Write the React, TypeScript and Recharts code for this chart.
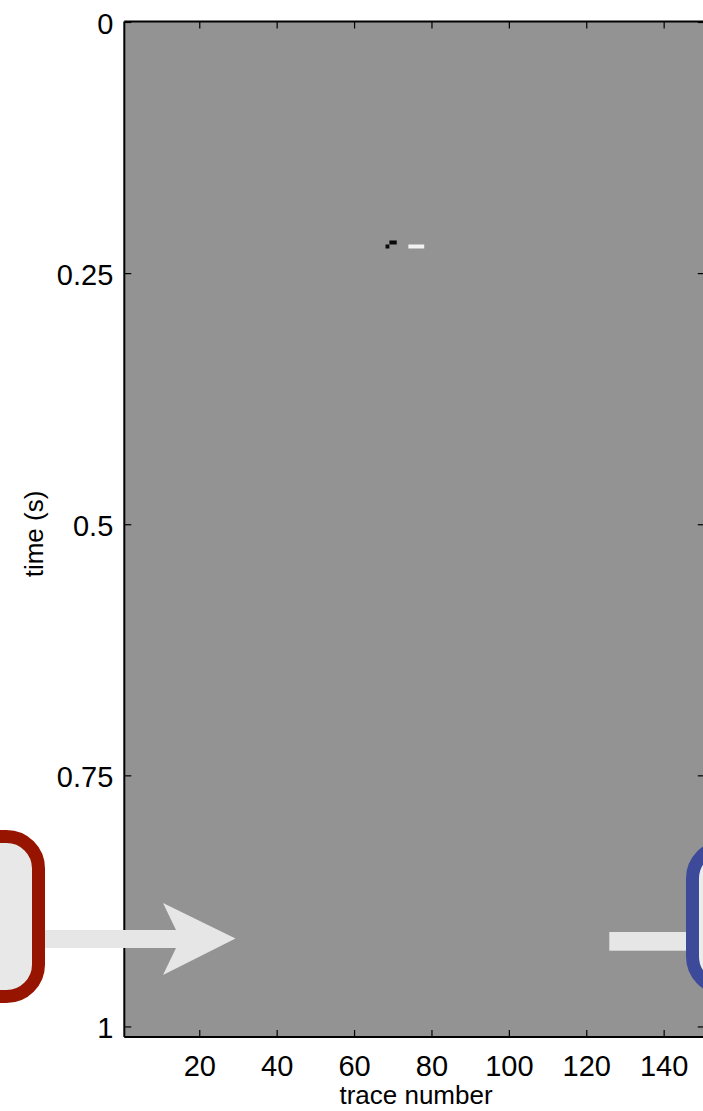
import { ComposedChart, XAxis, YAxis, ReferenceArea, Scatter } from "recharts";

// trace axis extent (imagesc cells 1..150) and time axis extent
const traceRange = [0.5, 150.5];
const timeRange = [-0.001, 1.01];

const traceTicks = [20, 40, 60, 80, 100, 120, 140];
const timeTicks = [0, 0.25, 0.5, 0.75, 1];
const timeTickLabels = ["0", "0.25", "0.5", "0.75", "1"];

// non-zero amplitude cells read off the section: trace span, time span, amplitude
const cellTraceStart = [69.0, 68.0, 73.9];
const cellTraceEnd = [70.9, 69.0, 78.0];
const cellTimeStart = [0.217, 0.221, 0.221];
const cellTimeEnd = [0.221, 0.225, 0.225];
const cellAmp = [-1, -1, 1];

const bgGray = "#939393";

function ampColor(a: number) {
  if (a < 0) return "#0a0a0a";
  if (a > 0) return "#f2f2f2";
  return bgGray;
}

const cellCenters = cellAmp.map((a, i) => ({
  x: (cellTraceStart[i] + cellTraceEnd[i]) / 2,
  y: (cellTimeStart[i] + cellTimeEnd[i]) / 2,
  a,
}));

const BottomTick = (props: any) => {
  const { x, y, payload } = props;
  return (
    <g>
      <line x1={x} x2={x} y1={y} y2={y - 7} stroke="#000" strokeWidth={1.2} />
      <text x={x} y={y + 39} textAnchor="middle" fontSize={29} fill="#000">
        {payload.value}
      </text>
    </g>
  );
};

const TopTick = (props: any) => {
  const { x, y } = props;
  return <line x1={x} x2={x} y1={y} y2={y + 7} stroke="#000" strokeWidth={1.2} />;
};

const LeftTick = (props: any) => {
  const { x, y, payload } = props;
  const i = timeTicks.indexOf(payload.value);
  return (
    <g>
      <line x1={x} x2={x + 7} y1={y} y2={y} stroke="#000" strokeWidth={1.2} />
      <text x={x - 11} y={y + 11} textAnchor="end" fontSize={29} fill="#000">
        {i >= 0 ? timeTickLabels[i] : payload.value}
      </text>
    </g>
  );
};

const RightTick = (props: any) => {
  const { x, y } = props;
  return <line x1={x} x2={x - 7} y1={y} y2={y} stroke="#000" strokeWidth={1.2} />;
};

export default function App() {
  const font = '"Liberation Sans", Arial, Helvetica, sans-serif';
  return (
    <div
      style={{
        position: "fixed",
        left: 0,
        top: 0,
        width: 703,
        height: 1111,
        overflow: "hidden",
        background: "#fff",
        fontFamily: font,
      }}
    >
      <ComposedChart
        width={760}
        height={1111}
        data={cellCenters}
        margin={{ top: 20.5, left: 123.3, right: 54.2, bottom: 73 }}
        style={{ fontFamily: font, overflow: "visible" }}
      >
        <XAxis
          xAxisId="b"
          type="number"
          dataKey="x"
          domain={traceRange}
          allowDataOverflow
          ticks={traceTicks}
          interval={0}
          height={1}
          tickSize={0}
          tickMargin={0}
          tick={<BottomTick />}
          axisLine={{ stroke: "#000", strokeWidth: 2 }}
        />
        <XAxis
          xAxisId="t"
          orientation="top"
          type="number"
          dataKey="x"
          domain={traceRange}
          allowDataOverflow
          ticks={traceTicks}
          interval={0}
          height={1}
          tickSize={0}
          tickMargin={0}
          tick={<TopTick />}
          axisLine={{ stroke: "#000", strokeWidth: 2 }}
        />
        <YAxis
          yAxisId="l"
          type="number"
          dataKey="y"
          domain={timeRange}
          allowDataOverflow
          reversed
          ticks={timeTicks}
          interval={0}
          width={1}
          tickSize={0}
          tickMargin={0}
          tick={<LeftTick />}
          axisLine={{ stroke: "#000", strokeWidth: 2 }}
        />
        <YAxis
          yAxisId="r"
          orientation="right"
          type="number"
          dataKey="y"
          domain={timeRange}
          allowDataOverflow
          reversed
          ticks={timeTicks}
          interval={0}
          width={1}
          tickSize={0}
          tickMargin={0}
          tick={<RightTick />}
          axisLine={{ stroke: "#000", strokeWidth: 2 }}
        />
        <ReferenceArea
          xAxisId="b"
          yAxisId="l"
          x1={traceRange[0]}
          x2={traceRange[1]}
          y1={timeRange[0]}
          y2={timeRange[1]}
          fill={bgGray}
          fillOpacity={1}
          stroke="none"
          ifOverflow="hidden"
        />
        {cellAmp.map((a, i) => (
          <ReferenceArea
            key={i}
            xAxisId="b"
            yAxisId="l"
            x1={cellTraceStart[i]}
            x2={cellTraceEnd[i]}
            y1={cellTimeStart[i]}
            y2={cellTimeEnd[i]}
            fill={ampColor(a)}
            fillOpacity={1}
            stroke="none"
          />
        ))}
        <Scatter
          xAxisId="b"
          yAxisId="l"
          dataKey="y"
          fill="none"
          shape={() => <g />}
          isAnimationActive={false}
        />
        <Scatter
          xAxisId="t"
          yAxisId="r"
          dataKey="y"
          fill="none"
          shape={() => <g />}
          isAnimationActive={false}
        />
      </ComposedChart>
      <svg
        width={703}
        height={1111}
        style={{ position: "absolute", left: 0, top: 0, pointerEvents: "none" }}
      >
        <text x={416} y={1104} textAnchor="middle" fontSize={26} fill="#000" fontFamily={font}>
          trace number
        </text>
        <text
          x={0}
          y={0}
          transform="translate(43,534) rotate(-90)"
          textAnchor="middle"
          fontSize={26}
          fill="#000"
          fontFamily={font}
        >
          time (s)
        </text>
        {/* left annotation: arrow into the section */}
        <polygon
          points="38,930 176,930 163,903 235.5,938.5 163,975 176,948 38,948"
          fill="#e6e6e6"
        />
        <rect x={-100} y={836.5} width={138.5} height={160} rx={32} fill="#e8e8e8" stroke="#961400" strokeWidth={13} />
        {/* right annotation */}
        <rect x={609.3} y={932} width={82} height={18.7} fill="#e6e6e6" />
        <rect x={692.5} y={846.5} width={200} height={142} rx={32} fill="#ececec" stroke="#3c4a99" strokeWidth={13} />
      </svg>
    </div>
  );
}
